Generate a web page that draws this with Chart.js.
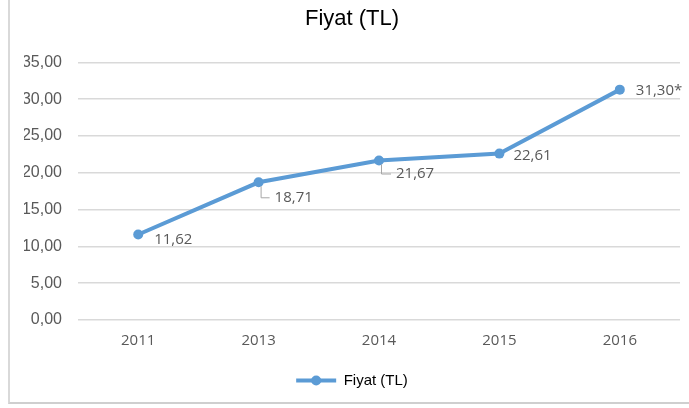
<!DOCTYPE html>
<html><head><meta charset="utf-8">
<script src="https://cdn.jsdelivr.net/npm/chart.js@4/dist/chart.umd.min.js"></script>
<style>
html,body{margin:0;padding:0;background:#fff;overflow:hidden;}
#wrap{position:relative;width:689px;height:408px;overflow:hidden;}
#frame{position:absolute;left:8px;top:-2px;width:700px;height:406px;border-left:2px solid #d9d9d9;border-bottom:2px solid #cfcfcf;box-sizing:border-box;}
canvas{position:absolute;left:0;top:0;}
</style></head>
<body><div id="wrap"><div id="frame"></div><canvas id="c" width="705" height="408"></canvas></div>
<script>
const categories = ["2011","2013","2014","2015","2016"];
const prices = [11.62, 18.71, 21.67, 22.61, 31.30];
const labelTexts = ["11,62","18,71","21,67","22,61","31,30*"];
const seriesName = "Fiyat (TL)";
const titleText = "Fiyat (TL)";

const labelPlugin = {
  id:'labels',
  afterDatasetsDraw(chart){
    const ctx = chart.ctx;
    const meta = chart.getDatasetMeta(0);
    const offs = [[16,5,false],[16,15,true],[17,13,true],[14,2,false],[16,1,false]];
    ctx.save();
    ctx.font = '15px "Open Sans", Lato, sans-serif';
    ctx.fillStyle = '#595959';
    ctx.textBaseline = 'middle';
    meta.data.forEach((p,i)=>{
      const o = offs[i];
      const x = p.x + o[0], y = p.y + o[1];
      if(o[2]){
        ctx.strokeStyle = '#a6a6a6';
        ctx.lineWidth = 1;
        ctx.beginPath();
        ctx.moveTo(p.x+2.5, p.y+4);
        ctx.lineTo(p.x+2.5, y+0.5);
        ctx.lineTo(x-5, y+0.5);
        ctx.stroke();
      }
      ctx.fillText(labelTexts[i], x, y);
    });
    ctx.restore();
  }
};

new Chart(document.getElementById('c'), {
  type:'line',
  data:{labels:categories, datasets:[{label:seriesName, data:prices, borderColor:'#5B9BD5', backgroundColor:'#5B9BD5', borderWidth:4, pointRadius:5, pointBorderWidth:0, pointHoverRadius:5, tension:0}]},
  options:{
    responsive:false, animation:false,
    layout:{padding:{left:24, right:25, top:0, bottom:10}},
    plugins:{
      title:{display:true, text:titleText, color:'#000', font:{family:'"Liberation Sans", Arial, sans-serif', size:22, weight:'normal'}, padding:{top:6,bottom:30}},
      legend:{position:'bottom', labels:{color:'#000', font:{family:'"Liberation Sans", Arial, sans-serif', size:15}, boxWidth:40, boxHeight:4, padding:11,
        generateLabels(chart){ return [{text:seriesName, fillStyle:'#5B9BD5', strokeStyle:'#5B9BD5', lineWidth:0, datasetIndex:0}]; }}},
      tooltip:{enabled:false}
    },
    scales:{
      x:{offset:true, grid:{display:false, drawTicks:false}, border:{display:false}, ticks:{color:'#595959', padding:12, font:{family:'"Open Sans", Lato, sans-serif', size:15}}},
      y:{min:0, max:35, grid:{color:'#d9d9d9', drawTicks:false, lineWidth:1.5}, border:{display:false},
        afterFit(s){ s.width = 54; },
        ticks:{stepSize:5, color:'#595959', padding:16, font:{family:'"Liberation Sans", Arial, sans-serif', size:16},
          callback:v=>v.toFixed(2).replace('.',',')}}
    }
  },
  plugins:[labelPlugin, {
    id:'legendMarker',
    afterDraw(chart){
      const lg = chart.legend; if(!lg||!lg.legendHitBoxes.length) return;
      const b = lg.legendHitBoxes[0]; const ctx = chart.ctx;
      ctx.save(); ctx.fillStyle='#5B9BD5';
      ctx.beginPath(); ctx.arc(b.left+20, b.top + b.height/2, 5, 0, Math.PI*2); ctx.fill(); ctx.restore();
    }
  }]
});
</script></body></html>
